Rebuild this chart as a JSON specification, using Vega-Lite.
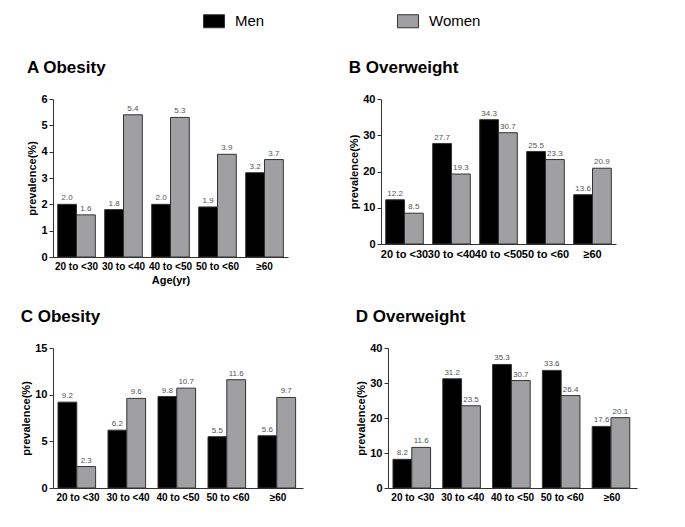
{
  "$schema": "https://vega.github.io/schema/vega-lite/v6.json",
  "background": "white",
  "padding": {"left": 20, "top": 10, "right": 5, "bottom": 5},
  "config": {
    "font": "Liberation Sans",
    "view": {"stroke": null},
    "axis": {"labelFont": "Liberation Sans", "labelFontWeight": "bold", "labelColor": "#000", "titleFont": "Liberation Sans", "titleFontWeight": "bold", "titleColor": "#000", "titleFontSize": 11, "domainColor": "#333", "tickColor": "#333", "grid": false},
    "axisX": {"ticks": false, "labelAngle": 0, "labelFontSize": 10, "labelPadding": 4, "labelOverlap": false, "labelLimit": 0},
    "axisY": {"tickSize": 4, "labelFontSize": 11, "labelPadding": 2, "titlePadding": 3},
    "title": {"font": "Liberation Sans", "fontWeight": "bold", "fontSize": 17, "anchor": "start", "frame": "bounds", "color": "#000", "offset": 16}
  },
  "datasets": {
    "prev": [
      {"panel": "A", "age": "20 to <30", "sex": "Men", "value": 2.0},
      {"panel": "A", "age": "30 to <40", "sex": "Men", "value": 1.8},
      {"panel": "A", "age": "40 to <50", "sex": "Men", "value": 2.0},
      {"panel": "A", "age": "50 to <60", "sex": "Men", "value": 1.9},
      {"panel": "A", "age": "≥60", "sex": "Men", "value": 3.2},
      {"panel": "A", "age": "20 to <30", "sex": "Women", "value": 1.6},
      {"panel": "A", "age": "30 to <40", "sex": "Women", "value": 5.4},
      {"panel": "A", "age": "40 to <50", "sex": "Women", "value": 5.3},
      {"panel": "A", "age": "50 to <60", "sex": "Women", "value": 3.9},
      {"panel": "A", "age": "≥60", "sex": "Women", "value": 3.7},
      {"panel": "B", "age": "20 to <30", "sex": "Men", "value": 12.2},
      {"panel": "B", "age": "30 to <40", "sex": "Men", "value": 27.7},
      {"panel": "B", "age": "40 to <50", "sex": "Men", "value": 34.3},
      {"panel": "B", "age": "50 to <60", "sex": "Men", "value": 25.5},
      {"panel": "B", "age": "≥60", "sex": "Men", "value": 13.6},
      {"panel": "B", "age": "20 to <30", "sex": "Women", "value": 8.5},
      {"panel": "B", "age": "30 to <40", "sex": "Women", "value": 19.3},
      {"panel": "B", "age": "40 to <50", "sex": "Women", "value": 30.7},
      {"panel": "B", "age": "50 to <60", "sex": "Women", "value": 23.3},
      {"panel": "B", "age": "≥60", "sex": "Women", "value": 20.9},
      {"panel": "C", "age": "20 to <30", "sex": "Men", "value": 9.2},
      {"panel": "C", "age": "30 to <40", "sex": "Men", "value": 6.2},
      {"panel": "C", "age": "40 to <50", "sex": "Men", "value": 9.8},
      {"panel": "C", "age": "50 to <60", "sex": "Men", "value": 5.5},
      {"panel": "C", "age": "≥60", "sex": "Men", "value": 5.6},
      {"panel": "C", "age": "20 to <30", "sex": "Women", "value": 2.3},
      {"panel": "C", "age": "30 to <40", "sex": "Women", "value": 9.6},
      {"panel": "C", "age": "40 to <50", "sex": "Women", "value": 10.7},
      {"panel": "C", "age": "50 to <60", "sex": "Women", "value": 11.6},
      {"panel": "C", "age": "≥60", "sex": "Women", "value": 9.7},
      {"panel": "D", "age": "20 to <30", "sex": "Men", "value": 8.2},
      {"panel": "D", "age": "30 to <40", "sex": "Men", "value": 31.2},
      {"panel": "D", "age": "40 to <50", "sex": "Men", "value": 35.3},
      {"panel": "D", "age": "50 to <60", "sex": "Men", "value": 33.6},
      {"panel": "D", "age": "≥60", "sex": "Men", "value": 17.6},
      {"panel": "D", "age": "20 to <30", "sex": "Women", "value": 11.6},
      {"panel": "D", "age": "30 to <40", "sex": "Women", "value": 23.5},
      {"panel": "D", "age": "40 to <50", "sex": "Women", "value": 30.7},
      {"panel": "D", "age": "50 to <60", "sex": "Women", "value": 26.4},
      {"panel": "D", "age": "≥60", "sex": "Women", "value": 20.1}
    ]
  },
  "data": {"name": "prev"},
  "spacing": 23,
  "vconcat": [
    {
      "spacing": 60,
      "hconcat": [
        {
          "title": {"text": "A Obesity"},
          "width": 235, "height": 158,
          "transform": [{"filter": "datum.panel == 'A'"}],
          "encoding": {
            "x": {"field": "age", "type": "nominal", "sort": ["20 to <30", "30 to <40", "40 to <50", "50 to <60", "≥60"], "scale": {"paddingInner": 0.2, "paddingOuter": 0.1}, "axis": {"title": "Age(yr)", "titlePadding": 3}},
            "xOffset": {"field": "sex", "type": "nominal", "sort": ["Men", "Women"], "scale": {"paddingInner": 0, "paddingOuter": 0}},
            "y": {"field": "value", "type": "quantitative", "scale": {"domain": [0, 6], "nice": false}, "axis": {"values": [0, 1, 2, 3, 4, 5, 6], "title": "prevalence(%)"}}
          },
          "layer": [
            {"mark": {"type": "bar", "stroke": "#333", "strokeWidth": 1},
             "encoding": {"color": {"field": "sex", "type": "nominal", "scale": {"domain": ["Men", "Women"], "range": ["#000000", "#a0a0a2"]},
               "legend": {"title": null, "orient": "none", "direction": "horizontal", "legendX": 150, "legendY": -89, "symbolType": "M-1,-0.62L1,-0.62L1,0.62L-1,0.62Z", "symbolSize": 441, "symbolStrokeColor": "#333", "symbolStrokeWidth": 1, "labelFontSize": 15, "labelFont": "Liberation Sans", "labelColor": "#000", "labelOffset": 10, "columnPadding": 130}}}},
            {"mark": {"type": "text", "dy": -6, "fontSize": 8, "color": "#555"},
             "encoding": {"text": {"field": "value", "type": "quantitative", "format": ".1f"}}}
          ]
        },
        {
          "title": {"text": "B Overweight"},
          "width": 235, "height": 145,
          "transform": [{"filter": "datum.panel == 'B'"}],
          "encoding": {
            "x": {"field": "age", "type": "nominal", "sort": ["20 to <30", "30 to <40", "40 to <50", "50 to <60", "≥60"], "scale": {"paddingInner": 0.2, "paddingOuter": 0.1}, "axis": {"title": null, "labelFontSize": 11}},
            "xOffset": {"field": "sex", "type": "nominal", "sort": ["Men", "Women"], "scale": {"paddingInner": 0, "paddingOuter": 0}},
            "y": {"field": "value", "type": "quantitative", "scale": {"domain": [0, 40], "nice": false}, "axis": {"values": [0, 10, 20, 30, 40], "title": "prevalence(%)"}}
          },
          "layer": [
            {"mark": {"type": "bar", "stroke": "#333", "strokeWidth": 1},
             "encoding": {"color": {"field": "sex", "type": "nominal", "scale": {"domain": ["Men", "Women"], "range": ["#000000", "#a0a0a2"]}}}},
            {"mark": {"type": "text", "dy": -6, "fontSize": 8, "color": "#555"},
             "encoding": {"text": {"field": "value", "type": "quantitative", "format": ".1f"}}}
          ]
        }
      ]
    },
    {
      "spacing": 52,
      "hconcat": [
        {
          "title": {"text": "C  Obesity"},
          "width": 250, "height": 140,
          "transform": [{"filter": "datum.panel == 'C'"}],
          "encoding": {
            "x": {"field": "age", "type": "nominal", "sort": ["20 to <30", "30 to <40", "40 to <50", "50 to <60", "≥60"], "scale": {"paddingInner": 0.2, "paddingOuter": 0.1}, "axis": {"title": null}},
            "xOffset": {"field": "sex", "type": "nominal", "sort": ["Men", "Women"], "scale": {"paddingInner": 0, "paddingOuter": 0}},
            "y": {"field": "value", "type": "quantitative", "scale": {"domain": [0, 15], "nice": false}, "axis": {"values": [0, 5, 10, 15], "title": "prevalence(%)"}}
          },
          "layer": [
            {"mark": {"type": "bar", "stroke": "#333", "strokeWidth": 1},
             "encoding": {"color": {"field": "sex", "type": "nominal", "scale": {"domain": ["Men", "Women"], "range": ["#000000", "#a0a0a2"]}}}},
            {"mark": {"type": "text", "dy": -6, "fontSize": 8, "color": "#555"},
             "encoding": {"text": {"field": "value", "type": "quantitative", "format": ".1f"}}}
          ]
        },
        {
          "title": {"text": "D  Overweight"},
          "width": 249, "height": 140,
          "transform": [{"filter": "datum.panel == 'D'"}],
          "encoding": {
            "x": {"field": "age", "type": "nominal", "sort": ["20 to <30", "30 to <40", "40 to <50", "50 to <60", "≥60"], "scale": {"paddingInner": 0.2, "paddingOuter": 0.1}, "axis": {"title": null}},
            "xOffset": {"field": "sex", "type": "nominal", "sort": ["Men", "Women"], "scale": {"paddingInner": 0, "paddingOuter": 0}},
            "y": {"field": "value", "type": "quantitative", "scale": {"domain": [0, 40], "nice": false}, "axis": {"values": [0, 10, 20, 30, 40], "title": "prevalence(%)"}}
          },
          "layer": [
            {"mark": {"type": "bar", "stroke": "#333", "strokeWidth": 1},
             "encoding": {"color": {"field": "sex", "type": "nominal", "scale": {"domain": ["Men", "Women"], "range": ["#000000", "#a0a0a2"]}}}},
            {"mark": {"type": "text", "dy": -6, "fontSize": 8, "color": "#555"},
             "encoding": {"text": {"field": "value", "type": "quantitative", "format": ".1f"}}}
          ]
        }
      ]
    }
  ]
}
